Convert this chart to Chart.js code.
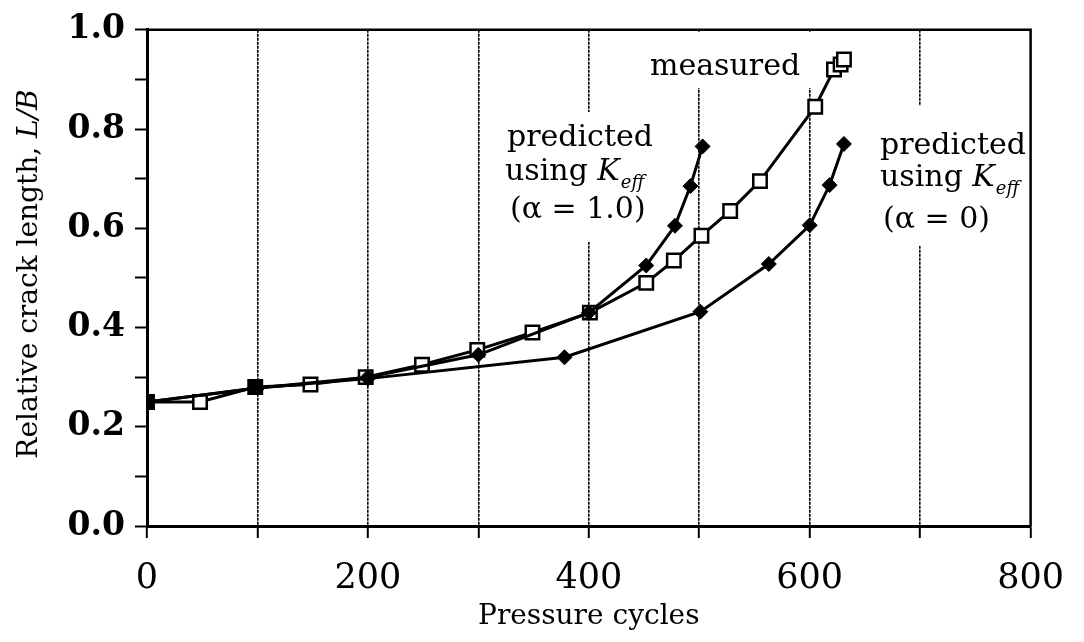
<!DOCTYPE html>
<html>
<head>
<meta charset="utf-8">
<title>Relative crack length vs pressure cycles</title>
<script src="https://cdn.jsdelivr.net/npm/chart.js@4.4.1/dist/chart.umd.min.js"></script>
<style>
  html, body { margin: 0; padding: 0; background: #fff; }
  #wrap { width: 1084px; height: 642px; position: relative; }
</style>
</head>
<body>
<div id="wrap"><canvas id="crack"></canvas></div>
<script>
// values
const cyclesMeasured = [0, 48, 98, 148, 198, 249, 299, 349, 401, 452, 477, 502, 528, 555, 605, 622, 628, 631];
const lengthMeasured = [0.25, 0.25, 0.28, 0.285, 0.30, 0.325, 0.355, 0.39, 0.43, 0.49, 0.535, 0.585, 0.635, 0.695, 0.845, 0.92, 0.93, 0.94];

const cyclesAlpha1 = [0, 100, 200, 300, 400, 452, 478, 492, 503];
const lengthAlpha1 = [0.25, 0.278, 0.30, 0.345, 0.43, 0.525, 0.605, 0.685, 0.765];

const cyclesAlpha0 = [0, 100, 200, 378, 501, 563, 600, 618, 631];
const lengthAlpha0 = [0.25, 0.278, 0.297, 0.34, 0.432, 0.528, 0.606, 0.687, 0.77];

const xTickLabels = ['0', '200', '400', '600', '800'];
const yTickLabels = ['0.0', '0.2', '0.4', '0.6', '0.8', '1.0'];

const pts = (xs, ys) => xs.map((x, i) => ({ x: x, y: ys[i] }));
const SERIF = "'DejaVu Serif', 'Liberation Serif', serif";

Chart.defaults.font.family = SERIF;
Chart.defaults.color = '#000';

// draws a line of text made of plain / italic / subscript pieces
function richText(ctx, parts, x, y, size) {
  let cx = x;
  parts.forEach(p => {
    const sz = p.sub ? Math.round(size * 0.6) : size;
    ctx.font = (p.italic ? 'italic ' : '') + sz + 'px ' + SERIF;
    ctx.fillText(p.t, cx, y + (p.sub ? size * 0.28 : 0));
    cx += ctx.measureText(p.t).width + (p.gap || 0);
  });
  return cx - x;
}

const notes = {
  id: 'notes',
  beforeDatasetsDraw(chart) {
    const { ctx, chartArea: a } = chart;
    ctx.save();
    // paper behind the labels hides the grid lines
    ctx.fillStyle = '#fff';
    ctx.fillRect(500, 112, 156, 130);
    ctx.fillRect(644, a.top + 2, 174, 88 - a.top - 2);
    ctx.fillRect(874, 106, 158, 140);

    ctx.fillStyle = '#000';
    ctx.textBaseline = 'alphabetic';
    ctx.textAlign = 'left';
    const S = 30;
    richText(ctx, [{ t: 'measured' }], 650, 75, S);

    richText(ctx, [{ t: 'predicted' }], 507, 146, S);
    richText(ctx, [{ t: 'using ' }, { t: 'K', italic: true, gap: 1 }, { t: 'eff', italic: true, sub: true }], 505, 180, S);
    richText(ctx, [{ t: '(\u03b1 = 1.0)' }], 510, 218, S);

    richText(ctx, [{ t: 'predicted' }], 880, 154, S);
    richText(ctx, [{ t: 'using ' }, { t: 'K', italic: true, gap: 1 }, { t: 'eff', italic: true, sub: true }], 880, 186, S);
    richText(ctx, [{ t: '(\u03b1 = 0)' }], 883, 228, S);
    ctx.restore();
  },
  afterDatasetsDraw(chart) {
    const { ctx, chartArea: a } = chart;
    ctx.save();
    ctx.strokeStyle = '#000';
    ctx.lineWidth = 2.5;
    ctx.beginPath();
    ctx.moveTo(a.left, a.top);
    ctx.lineTo(a.right, a.top);
    ctx.lineTo(a.right, a.bottom);
    ctx.stroke();
    ctx.restore();
  },
  afterDraw(chart) {
    const ctx = chart.ctx;
    ctx.save();
    ctx.translate(30, 274);
    ctx.rotate(-Math.PI / 2);
    ctx.fillStyle = '#000';
    ctx.textBaseline = 'middle';
    const parts = [{ t: 'Relative crack length, ' }, { t: 'L/B', italic: true }];
    ctx.font = '28px ' + SERIF;
    let w = ctx.measureText(parts[0].t).width;
    ctx.font = 'italic 28px ' + SERIF;
    w += ctx.measureText(parts[1].t).width;
    richText(ctx, parts, -w / 2, 0, 28);
    ctx.restore();
  }
};

new Chart(document.getElementById('crack'), {
  type: 'scatter',
  plugins: [notes],
  data: {
    datasets: [
      {
        label: 'predicted using Keff (\u03b1 = 0)',
        data: pts(cyclesAlpha0, lengthAlpha0),
        showLine: true,
        borderColor: '#000',
        borderWidth: 3,
        pointStyle: 'rectRot',
        pointRadius: 7.5,
        pointBackgroundColor: '#000',
        pointBorderColor: '#000',
        pointBorderWidth: 1
      },
      {
        label: 'predicted using Keff (\u03b1 = 1.0)',
        data: pts(cyclesAlpha1, lengthAlpha1),
        showLine: true,
        borderColor: '#000',
        borderWidth: 3,
        pointStyle: 'rectRot',
        pointRadius: 7.5,
        pointBackgroundColor: '#000',
        pointBorderColor: '#000',
        pointBorderWidth: 1
      },
      {
        label: 'measured',
        data: pts(cyclesMeasured, lengthMeasured),
        showLine: true,
        borderColor: '#000',
        borderWidth: 3,
        pointStyle: 'rect',
        pointRadius: 9.5,
        // where all three curves meet the marks merge into a solid block
        pointBackgroundColor: c => (c.dataIndex === 0 || c.dataIndex === 2) ? '#000' : '#fff',
        pointBorderColor: '#000',
        pointBorderWidth: 2.5
      }
    ]
  },
  options: {
    responsive: true,
    maintainAspectRatio: false,
    animation: false,
    layout: { padding: { top: 27, right: 42, left: 0, bottom: 0 } },
    plugins: {
      legend: { display: false },
      tooltip: { enabled: false }
    },
    scales: {
      x: {
        type: 'linear',
        min: 0,
        max: 800,
        afterFit: s => { s.height = 116; },
        ticks: {
          stepSize: 100,
          autoSkip: false,
          maxRotation: 0,
          padding: 20,
          color: '#000',
          font: { size: 35 },
          callback: v => xTickLabels.includes(String(v)) ? String(v) : ''
        },
        grid: {
          color: c => (c.tick && (c.tick.value === 0 || c.tick.value === 800)) ? 'rgba(0,0,0,0)' : '#000',
          lineWidth: 1.6,
          tickColor: '#000',
          tickWidth: 2,
          tickLength: 12
        },
        border: { display: true, color: '#000', width: 3, dash: [3, 1] },
        title: {
          display: true,
          text: 'Pressure cycles',
          color: '#000',
          font: { size: 28 },
          padding: { top: 0, bottom: 8 }
        }
      },
      y: {
        min: 0,
        max: 1,
        afterFit: s => { s.width = 147; },
        ticks: {
          stepSize: 0.1,
          autoSkip: false,
          padding: 10,
          color: '#000',
          font: { size: 33, weight: 'bold' },
          callback: v => {
            const s = Number(v).toFixed(1);
            return yTickLabels.includes(s) ? s : '';
          }
        },
        grid: {
          drawOnChartArea: false,
          tickColor: '#000',
          tickWidth: 2,
          tickLength: 12
        },
        border: { display: true, color: '#000', width: 3 }
      }
    }
  }
});
</script>
</body>
</html>
